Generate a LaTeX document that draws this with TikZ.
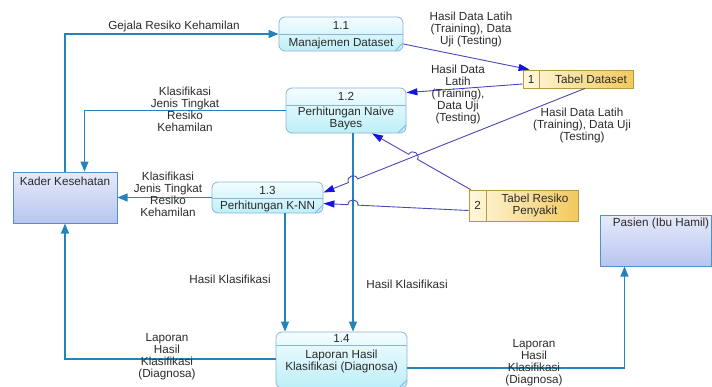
\documentclass[tikz,border=0pt]{standalone}
\usepackage{fontspec}
\setmainfont{Liberation Sans}
\usetikzlibrary{arrows.meta,calc}
\definecolor{procline}{HTML}{8DB3D6}
\definecolor{proctop}{HTML}{F4FDFF}
\definecolor{procbot}{HTML}{BDEFF8}
\definecolor{extline}{HTML}{4F93C6}
\definecolor{exttop}{HTML}{E6EAFA}
\definecolor{extbot}{HTML}{B9C5F0}
\definecolor{dsline}{HTML}{B89A45}
\definecolor{dsleft}{HTML}{FFF8DD}
\definecolor{dsright}{HTML}{F2C95E}
\definecolor{flowc}{HTML}{2383BC}
\definecolor{dflowc}{HTML}{4848B8}
\definecolor{dtipc}{HTML}{1414E0}
\definecolor{txt}{HTML}{2A2A2A}
\begin{document}
\begin{tikzpicture}[x=1pt,y=-1pt, font=\fontsize{11.7}{12}\selectfont, text=txt,
 proc/.style={draw=procline, line width=0.8pt, rounded corners=6pt, top color=proctop, bottom color=procbot, inner sep=0pt},
 ext/.style={draw=extline, line width=1pt, top color=exttop, bottom color=extbot, inner sep=0pt},
 store/.style={draw=dsline, line width=0.8pt, left color=dsleft, right color=dsright, inner sep=0pt},
 lbl/.style={align=center, inner sep=0pt},
 flow/.style={draw=flowc, line width=1.1pt, -{Triangle[length=10pt,width=8pt]}},
 dflow/.style={draw=dflowc, line width=0.9pt, -{Triangle[length=11pt,width=7pt,color=dtipc]}},
 sep/.style={draw=procline, line width=0.8pt},
 dsep/.style={draw=dsline, line width=0.8pt},
]
\useasboundingbox (0,0) rectangle (712,386);

% processes
\node[proc, minimum width=124pt, minimum height=34pt] (p11) at (341,34) {};
\draw[sep] (279,34) -- (403,34);
\draw[sep] (395,51) -- (403,43);
\node[lbl] (p11n) at (341,25.5) {1.1};
\node[lbl] (p11t) at (341,43) {Manajemen Dataset};

\node[proc, minimum width=120pt, minimum height=45pt] (p12) at (346,110.5) {};
\draw[sep] (286,105) -- (406,105);
\draw[sep] (398,133) -- (406,125);
\node[lbl] (p12n) at (346,96.5) {1.2};
\node[lbl] (p12t) at (346,118.5) {Perhitungan Naive\\Bayes};

\node[proc, minimum width=111pt, minimum height=31pt] (p13) at (267.5,197.5) {};
\draw[sep] (212,198) -- (323,198);
\draw[sep] (315,213) -- (323,205);
\node[lbl] (p13n) at (267.5,190) {1.3};
\node[lbl] (p13t) at (267.5,206) {Perhitungan K-NN};

\node[proc, minimum width=131pt, minimum height=56pt] (p14) at (341.5,360) {};
\draw[sep] (276,345) -- (407,345);
\draw[sep] (399,388) -- (407,380);
\node[lbl] (p14n) at (341.5,338.5) {1.4};
\node[lbl] (p14t) at (341.5,361.5) {Laporan Hasil\\Klasifikasi (Diagnosa)};

% externals
\node[ext, minimum width=104pt, minimum height=51pt] (kader) at (65,197.5) {};
\node[lbl] (kadert) at (65,181) {Kader Kesehatan};
\node[ext, minimum width=111pt, minimum height=51pt] (pasien) at (655.5,240.5) {};
\node[lbl] (pasient) at (661,223) {Pasien (Ibu Hamil)};

% data stores
\node[store, minimum width=110pt, minimum height=18pt] (tds) at (578,79) {};
\draw[dsep] (539,70) -- (539,88);
\node[lbl] (tdsn) at (531,79) {1};
\node[lbl] (tdst) at (591,79) {Tabel Dataset};
\node[store, minimum width=109pt, minimum height=31pt] (trp) at (523.5,205.5) {};
\draw[dsep] (486,190) -- (486,221);
\node[lbl] (trpn) at (477.5,205.5) {2};
\node[lbl] (trpt) at (535,205) {Tabel Resiko\\Penyakit};

% coordinates for crossings
\coordinate (a4) at ($(tds.south)+(7,0)$);
\coordinate (b4) at ($(p13.east)+(0,-5)$);
\coordinate (a10) at ($(p12.south)+(7,0)$);
\coordinate (b10) at (a10 |- p14.north);
\coordinate (a5) at ($(trp.north west)+(2,0)$);
\coordinate (b5) at ($(p12.south)+(26,0)$);
\coordinate (a6) at ($(trp.west)+(0,5)$);
\coordinate (b6) at ($(p13.east)+(0,6)$);
\coordinate (x4) at (intersection of a4--b4 and a10--b10);
\coordinate (x5) at (intersection of a5--b5 and a4--b4);
\coordinate (x6) at (intersection of a6--b6 and a10--b10);
\foreach \n/\a/\b in {4/a4/b4,5/a5/b5,6/a6/b6}{
  \coordinate (h\n a) at ($(x\n)!5pt!(\a)$);
  \coordinate (h\n b) at ($(x\n)!5pt!(\b)$);
}

% external flows
\draw[flow] (kader.north) |- (p11.west);
\node[lbl] (l1) at (174,26) {Gejala Resiko Kehamilan};
\draw[flow] (p12.west) -| ($(kader.north west)+(72,0)$);
\node[lbl] (l7) at (185,109.5) {Klasifikasi\\Jenis Tingkat\\Resiko\\Kehamilan};
\draw[flow] (p13.west) -- (kader.east);
\node[lbl] (l8) at (168,194.5) {Klasifikasi\\Jenis Tingkat\\Resiko\\Kehamilan};
\draw[flow] ($(p13.south)+(17.5,0)$) -- ($(p14.north)+(-56.5,0)$);
\node[lbl] (l9) at (230,279) {Hasil Klasifikasi};
\draw[flow] (a10) -- (b10);
\node[lbl] (l10) at (407,284) {Hasil Klasifikasi};
\draw[flow] ($(p14.west)+(0,-1)$) -| (kader.south);
\node[lbl] (l11) at (167,357) {Laporan\\Hasil\\Klasifikasi\\(Diagnosa)};
\draw[flow] ($(p14.east)+(0,8)$) -| ($(pasien.south west)+(25,0)$);
\node[lbl] (l12) at (534,362.5) {Laporan\\Hasil\\Klasifikasi\\(Diagnosa)};

% data flows
\draw[dflow] ($(p11.east)+(0,10)$) -- ($(tds.north west)+(7,0)$);
\node[lbl] (l2) at (471,29) {Hasil Data Latih\\(Training), Data\\Uji (Testing)};
\draw[dflow] ($(tds.west)+(0,5)$) -- ($(p12.north east)+(0,5)$);
\node[lbl] (l3) at (458,94.5) {Hasil Data\\Latih\\(Training),\\Data Uji\\(Testing)};
\draw[dflow] (a4) -- (h4a) .. controls ($(h4a)!6.6pt!-90:(h4b)$) and ($(h4b)!6.6pt!90:(h4a)$) .. (h4b) -- (b4);
\node[lbl] (l4) at (582,125) {Hasil Data Latih\\(Training), Data Uji\\(Testing)};
\draw[dflow] (a5) -- (h5a) .. controls ($(h5a)!6.6pt!-90:(h5b)$) and ($(h5b)!6.6pt!90:(h5a)$) .. (h5b) -- (b5);
\draw[dflow] (a6) -- (h6a) .. controls ($(h6a)!6.6pt!-90:(h6b)$) and ($(h6b)!6.6pt!90:(h6a)$) .. (h6b) -- (b6);
\end{tikzpicture}
\end{document}
